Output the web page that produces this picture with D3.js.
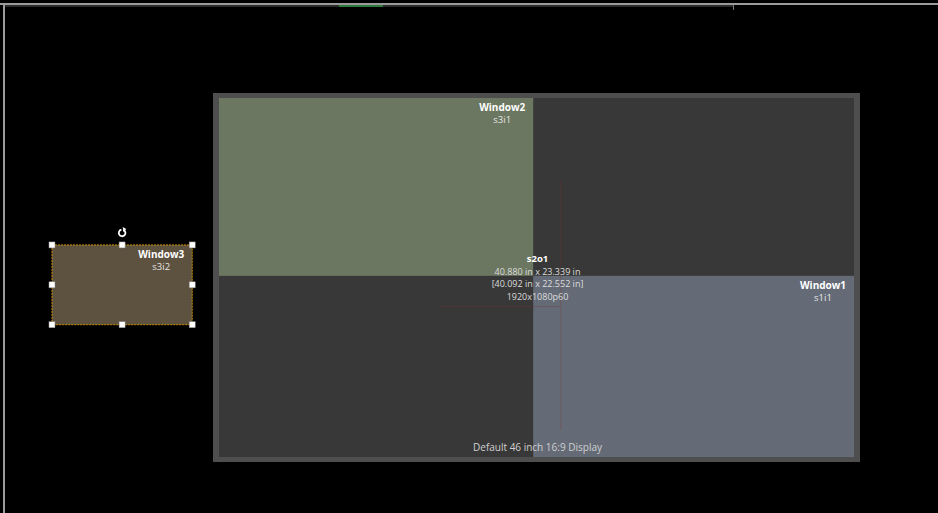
<!DOCTYPE html>
<html>
<head>
<meta charset="utf-8">
<script src="https://cdn.jsdelivr.net/npm/d3@7"></script>
<style>
  html, body { margin: 0; padding: 0; background: #000; overflow: hidden; }
  svg { display: block; }
</style>
</head>
<body>
<svg id="canvas"></svg>
<script>
// display resolution (pixels) and its label
const displayRes = [1920, 1080];
const displayName = "Default 46 inch 16:9 Display";
const outputLabel = ["s2o1", "40.880 in x 23.339 in", "[40.092 in x 22.552 in]", "1920x1080p60"];

// windows placed in display pixel coordinates
const windowNames = ["Window2", "Window1", "Window3"];
const windowSources = ["s3i1", "s1i1", "s3i2"];
const windowX = [0, 950, -505];
const windowY = [0, 535, 442];
const windowW = [950, 970, 424];
const windowH = [535, 545, 240];
const windowFill = ["#6b7760", "#646b77", "#5d5140"];
const selectedWindow = "Window3";

// faint guide lines (display pixels)
const guideV = [{ x: 1032, y0: 247, y1: 999 }];
const guideH = [{ y: 626, x0: 662, x1: 1032 }];

const W = 938, H = 513;
const svg = d3.select("#canvas").attr("width", W).attr("height", H);

// map display pixels onto the canvas
const x = d3.scaleLinear().domain([0, displayRes[0]]).range([219, 854]);
const y = d3.scaleLinear().domain([0, displayRes[1]]).range([98, 457]);

// window chrome: border lines and progress strip
svg.append("rect").attr("x", 0).attr("y", 3).attr("width", W).attr("height", 2).attr("fill", "#9a9a9a");
svg.append("rect").attr("x", 3).attr("y", 3).attr("width", 2).attr("height", H).attr("fill", "#9a9a9a");
svg.append("rect").attr("x", 5).attr("y", 5).attr("width", 728).attr("height", 2).attr("fill", "#2a2a2a");
svg.append("rect").attr("x", 339).attr("y", 5).attr("width", 44).attr("height", 2).attr("fill", "#2e7a3e");
svg.append("rect").attr("x", 733).attr("y", 5).attr("width", 1).attr("height", 5).attr("fill", "#777");

// display frame
svg.append("rect")
  .attr("x", x(0) - 6).attr("y", y(0) - 5)
  .attr("width", x(displayRes[0]) - x(0) + 12)
  .attr("height", y(displayRes[1]) - y(0) + 10)
  .attr("fill", "#4e4e4e");
svg.append("rect")
  .attr("x", x(0)).attr("y", y(0))
  .attr("width", x(displayRes[0]) - x(0))
  .attr("height", y(displayRes[1]) - y(0))
  .attr("fill", "#383838");

const windows = windowNames.map((name, i) => ({
  name, source: windowSources[i],
  x: windowX[i], y: windowY[i], w: windowW[i], h: windowH[i], fill: windowFill[i]
}));

const g = svg.append("g").selectAll("g")
  .data(windows)
  .join("g");

g.append("rect")
  .attr("x", d => x(d.x))
  .attr("y", d => y(d.y))
  .attr("width", d => x(d.x + d.w) - x(d.x))
  .attr("height", d => y(d.y + d.h) - y(d.y))
  .attr("fill", d => d.fill)
  .attr("stroke", d => d.name === selectedWindow ? "#c98f00" : "none")
  .attr("stroke-dasharray", "2,1")
  .attr("stroke-width", 1);

// guides
svg.append("g").selectAll("line.v")
  .data(guideV).join("line")
  .attr("x1", d => x(d.x) + 0.5).attr("x2", d => x(d.x) + 0.5)
  .attr("y1", d => y(d.y0)).attr("y2", d => y(d.y1))
  .attr("stroke", "#7a3434").attr("stroke-opacity", 0.35);
svg.append("g").selectAll("line.h")
  .data(guideH).join("line")
  .attr("x1", d => x(d.x0)).attr("x2", d => x(d.x1))
  .attr("y1", d => y(d.y) + 0.5).attr("y2", d => y(d.y) + 0.5)
  .attr("stroke", "#7a3434").attr("stroke-opacity", 0.35);

const font = "'Open Sans', 'Noto Sans', sans-serif";

// window captions near top-right
g.append("text")
  .attr("x", d => x(d.x + d.w) - 31)
  .attr("y", d => y(d.y) + 13)
  .attr("text-anchor", "middle")
  .attr("font-family", font).attr("font-size", 10).attr("font-weight", "bold")
  .attr("fill", "#fff")
  .text(d => d.name);
g.append("text")
  .attr("x", d => x(d.x + d.w) - 31)
  .attr("y", d => y(d.y) + 25)
  .attr("text-anchor", "middle")
  .attr("font-family", font).attr("font-size", 9.5)
  .attr("fill", "#e6e6e6")
  .text(d => d.source);

// selection handles on the selected window
const sel = windows.find(d => d.name === selectedWindow);
const hx = [sel.x, sel.x + sel.w / 2, sel.x + sel.w];
const hy = [sel.y, sel.y + sel.h / 2, sel.y + sel.h];
const handles = [];
hx.forEach((px, i) => hy.forEach((py, j) => { if (!(i === 1 && j === 1)) handles.push([px, py]); }));
svg.append("g").selectAll("rect")
  .data(handles).join("rect")
  .attr("x", d => x(d[0]) - 3).attr("y", d => y(d[1]) - 3)
  .attr("width", 6).attr("height", 6)
  .attr("fill", "#fff").attr("stroke", "#888").attr("stroke-width", 0.5);

// rotate icon
const rc = [x(sel.x + sel.w / 2), y(sel.y) - 12];
const arc = d3.arc().innerRadius(2.4).outerRadius(4.2)
  .startAngle(0.4).endAngle(2 * Math.PI - 0.2);
svg.append("path")
  .attr("transform", `translate(${rc[0]},${rc[1]})`)
  .attr("d", arc()).attr("fill", "#fff");
svg.append("path")
  .attr("transform", `translate(${rc[0]},${rc[1]})`)
  .attr("d", "M0.5,-5.8 L4.2,-4 L1.5,-1 Z").attr("fill", "#fff");

// output label at centre
const cx = x(displayRes[0] / 2) + 1;
svg.append("g").selectAll("text")
  .data(outputLabel).join("text")
  .attr("x", cx)
  .attr("y", (d, i) => 262 + i * 12.7)
  .attr("text-anchor", "middle")
  .attr("font-family", font)
  .attr("font-size", (d, i) => i === 0 ? 9.5 : 9)
  .attr("font-weight", (d, i) => i === 0 ? "bold" : "normal")
  .attr("fill", (d, i) => i === 0 ? "#fff" : "#dcdcdc")
  .text(d => d);

// display name
svg.append("text")
  .attr("x", cx)
  .attr("y", y(displayRes[1]) - 6)
  .attr("text-anchor", "middle")
  .attr("font-family", font).attr("font-size", 10)
  .attr("fill", "#cfcfcf")
  .text(displayName);
</script>
</body>
</html>
